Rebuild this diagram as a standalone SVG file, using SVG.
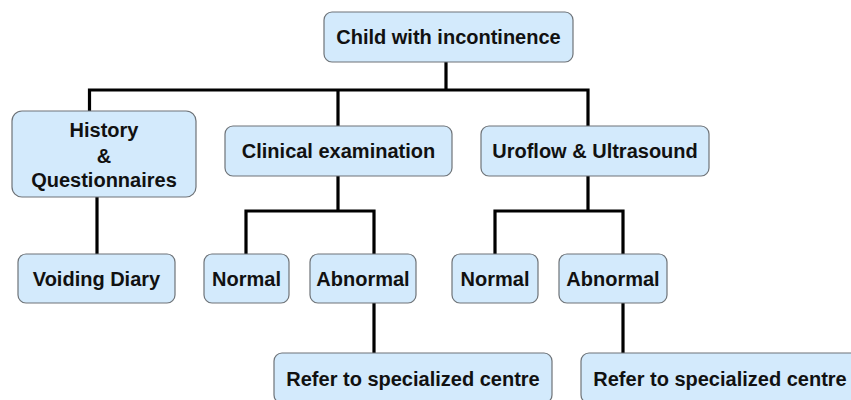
<svg xmlns="http://www.w3.org/2000/svg" width="851" height="400" viewBox="0 0 851 400">
<style>
.box{fill:#d3eafc;stroke:#6e7378;stroke-width:1.2}
.t{font-family:"Liberation Sans",Arial,sans-serif;font-weight:bold;font-size:20px;fill:#111;text-anchor:middle}
.c{fill:none;stroke:#000;stroke-width:3.2;stroke-linecap:square;stroke-linejoin:miter}
</style>
<rect width="851" height="400" fill="#fff"/>
<g id="connectors">
<path class="c" d="M446 63V90M89.5 90H588M89.5 90V110M338 90V126M588 90V126"/>
<path class="c" d="M97 198V253"/>
<path class="c" d="M338 177V211M246 211H374M246 211V253M374 211V253"/>
<path class="c" d="M374 304V352"/>
<path class="c" d="M588 177V211M495 211H623M495 211V253M623 211V253"/>
<path class="c" d="M623 304V352"/>
</g>
<g id="child"><rect class="box" x="324" y="12" width="249" height="50" rx="8"/><text class="t" x="448.5" y="44">Child with incontinence</text></g>
<g id="history"><rect class="box" x="12" y="111" width="184" height="86" rx="10"/><text class="t" x="104" y="137">History</text><text class="t" x="104" y="163">&amp;</text><text class="t" x="104" y="187">Questionnaires</text></g>
<g id="clinical"><rect class="box" x="225" y="126" width="227" height="50" rx="8"/><text class="t" x="338.5" y="158">Clinical examination</text></g>
<g id="uroflow"><rect class="box" x="481" y="126" width="228" height="50" rx="8"/><text class="t" x="595" y="158">Uroflow &amp; Ultrasound</text></g>
<g id="voiding"><rect class="box" x="18" y="254" width="157" height="49" rx="8"/><text class="t" x="96.5" y="286">Voiding Diary</text></g>
<g id="normal1"><rect class="box" x="204" y="254" width="85" height="49" rx="8"/><text class="t" x="246.5" y="286">Normal</text></g>
<g id="abnormal1"><rect class="box" x="310" y="254" width="106" height="49" rx="8"/><text class="t" x="363" y="286">Abnormal</text></g>
<g id="normal2"><rect class="box" x="452" y="254" width="86" height="49" rx="8"/><text class="t" x="495" y="286">Normal</text></g>
<g id="abnormal2"><rect class="box" x="559" y="254" width="108" height="49" rx="8"/><text class="t" x="613" y="286">Abnormal</text></g>
<g id="refer1"><rect class="box" x="274" y="353" width="278" height="50" rx="8"/><text class="t" x="413" y="386">Refer to specialized centre</text></g>
<g id="refer2"><rect class="box" x="581" y="353" width="282" height="50" rx="8"/><text class="t" x="720" y="386">Refer to specialized centre</text></g>
</svg>
